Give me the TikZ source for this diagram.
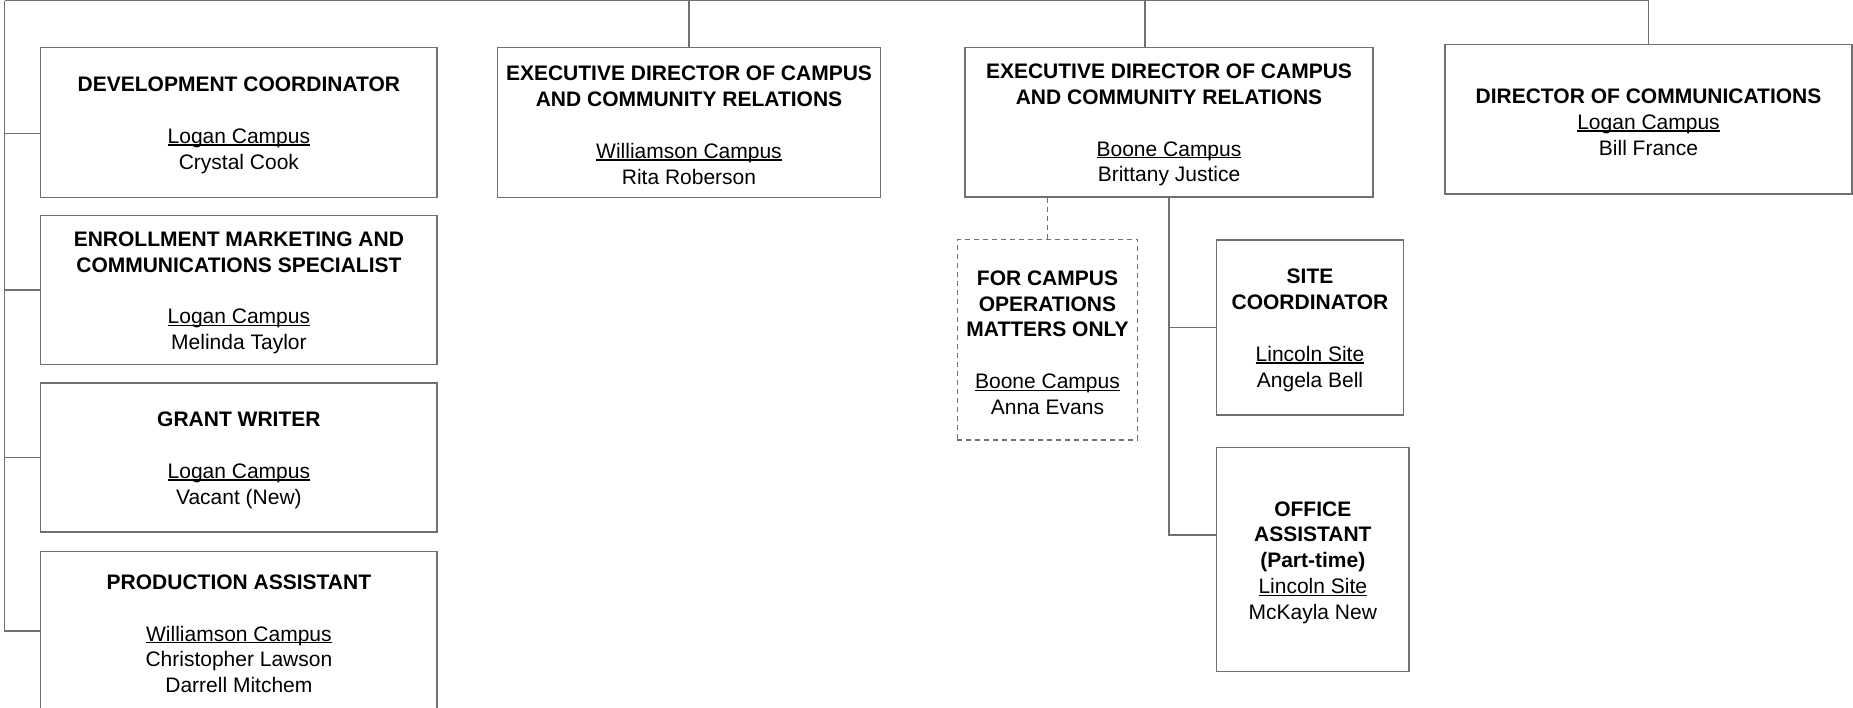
\documentclass[tikz,border=0pt]{standalone}
\usepackage{fontspec}
\setmainfont{Liberation Sans}
\definecolor{linegray}{HTML}{707070}
\newcommand\campus[1]{{\setbox0\hbox{#1}\rlap{\rule[-2.2pt]{\wd0}{1.2pt}}\box0}}
\newcommand\firstln{\rule{0pt}{20.5pt}}
\tikzset{
  orgbox/.style={draw=linegray, line width=1.4pt, rectangle, inner sep=0pt,
    align=center, font=\fontsize{21}{25.8}\selectfont},
  dashbox/.style={orgbox, line width=1.1pt, dash pattern=on 5pt off 4pt},
  conn/.style={draw=linegray, line width=1.4pt},
  dashconn/.style={draw=linegray, line width=1.1pt, dash pattern=on 5pt off 4pt},
}
\begin{document}
\begin{tikzpicture}[x=1pt,y=-1pt]
\useasboundingbox (0,0) rectangle (1853,708);

% left column
\node[orgbox, minimum width=396.3pt, minimum height=150.2pt] (bA) at (238.9,122.4)
  {\firstln\textbf{DEVELOPMENT COORDINATOR}\\\mbox{}\\\campus{Logan Campus}\\Crystal Cook};
\node[orgbox, minimum width=396.3pt, minimum height=149pt] (bB) at (238.9,290)
  {\firstln\textbf{ENROLLMENT MARKETING AND}\\\textbf{COMMUNICATIONS SPECIALIST}\\\mbox{}\\\campus{Logan Campus}\\Melinda Taylor};
\node[orgbox, minimum width=396.3pt, minimum height=149pt] (bC) at (238.9,457.5)
  {\firstln\textbf{GRANT WRITER}\\\mbox{}\\\campus{Logan Campus}\\Vacant (New)};
\node[orgbox, minimum width=396.3pt, minimum height=159pt] (bD) at (238.9,631)
  {\firstln\textbf{PRODUCTION ASSISTANT}\\\mbox{}\\\campus{Williamson Campus}\\Christopher Lawson\\Darrell Mitchem};

% top row
\node[orgbox, minimum width=383pt, minimum height=150pt] (b2) at (689,122.4)
  {\firstln\textbf{EXECUTIVE DIRECTOR OF CAMPUS}\\\textbf{AND COMMUNITY RELATIONS}\\\mbox{}\\\campus{Williamson Campus}\\Rita Roberson};
\node[orgbox, minimum width=408pt, minimum height=149.3pt] (b3) at (1169,122.3)
  {\firstln\textbf{EXECUTIVE DIRECTOR OF CAMPUS}\\\textbf{AND COMMUNITY RELATIONS}\\\mbox{}\\\campus{Boone Campus}\\Brittany Justice};
\node[orgbox, minimum width=407pt, minimum height=149.7pt] (b4) at (1648.5,119.2)
  {\firstln\textbf{DIRECTOR OF COMMUNICATIONS}\\\campus{Logan Campus}\\Bill France};

% under Boone
\node[dashbox, minimum width=180.4pt, minimum height=200.7pt] (db) at (1047.5,339.7)
  {\firstln\textbf{FOR CAMPUS}\\\textbf{OPERATIONS}\\\textbf{MATTERS ONLY}\\\mbox{}\\\campus{Boone Campus}\\Anna Evans};
\node[orgbox, minimum width=186.6pt, minimum height=175pt] (site) at (1310,327.5)
  {\firstln\textbf{SITE}\\\textbf{COORDINATOR}\\\mbox{}\\\campus{Lincoln Site}\\Angela Bell};
\node[orgbox, minimum width=192.3pt, minimum height=224pt] (oa) at (1312.8,559.7)
  {\firstln\textbf{OFFICE}\\\textbf{ASSISTANT}\\\textbf{(Part-time)}\\\campus{Lincoln Site}\\McKayla New};

% connectors
\coordinate (root) at (4.7,0.8);
\draw[conn] (root) -| (b4.north);
\draw[conn] (root) |- (bD.west);
\draw[conn] ([yshift=-11pt]bA.west) -- ([yshift=-11pt]bA.west -| root);
\draw[conn] (bB.west) -- (bB.west -| root);
\draw[conn] (bC.west) -- (bC.west -| root);
\draw[conn] (b2.north) -- (b2.north |- root);
\draw[conn] ([xshift=-24pt]b3.north) -- ([xshift=-24pt]b3.north |- root);
\draw[conn] (b3.south) |- ([yshift=24.7pt]oa.west);
\draw[conn] (site.west) -- (site.west -| b3.south);
\draw[dashconn] (b3.south -| db.north) -- (db.north);
\end{tikzpicture}
\end{document}
